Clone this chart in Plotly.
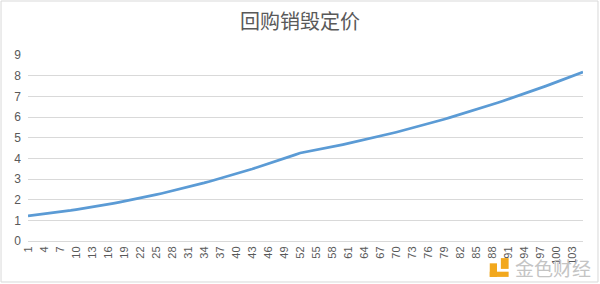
import plotly.graph_objects as go

title_text = "回购销毁定价"
periods = list(range(1, 106))
price = [
    1.220, 1.248, 1.277, 1.308, 1.340, 1.373, 1.407, 1.443, 1.479, 1.518,
    1.557, 1.598, 1.639, 1.683, 1.727, 1.773, 1.820, 1.868, 1.917, 1.968,
    2.020, 2.073, 2.128, 2.184, 2.241, 2.299, 2.359, 2.420, 2.482, 2.545,
    2.610, 2.676, 2.743, 2.811, 2.881, 2.952, 3.024, 3.098, 3.173, 3.249,
    3.326, 3.405, 3.484, 3.566, 3.648, 3.732, 3.816, 3.903, 3.990, 4.079,
    4.169, 4.260,
    4.307, 4.355, 4.404, 4.454, 4.505, 4.557, 4.611, 4.665, 4.720, 4.776,
    4.834, 4.892, 4.952, 5.012, 5.074, 5.136, 5.200, 5.264, 5.330, 5.397,
    5.464, 5.533, 5.603, 5.674, 5.746, 5.819, 5.893, 5.968, 6.044, 6.121,
    6.199, 6.278, 6.358, 6.439, 6.522, 6.605, 6.689, 6.775, 6.861, 6.948,
    7.037, 7.126, 7.217, 7.309, 7.401, 7.495, 7.590, 7.685, 7.782, 7.880,
    7.979, 8.079, 8.180,
]
y_ticks = list(range(0, 10))
x_labels = [str(p) for p in periods]
x_tick_labels = x_labels[::3]

fig = go.Figure()
fig.add_trace(go.Scatter(
    x=x_labels, y=price, mode="lines",
    line=dict(color="#5B9BD5", width=2.75),
    hoverinfo="skip",
))

fig.update_layout(
    width=600, height=284,
    margin=dict(l=28, r=17, t=55, b=43),
    paper_bgcolor="white", plot_bgcolor="white",
    showlegend=False,
    title=dict(text=title_text, x=0.5, xanchor="center", y=1 - 22 / 284, yanchor="middle",
               font=dict(family="Noto Sans CJK SC", size=20, color="#595959")),
    xaxis=dict(
        type="category", range=[0, len(periods) - 1],
        tickmode="array", tickvals=x_tick_labels, ticktext=x_tick_labels,
        tickangle=-90, showgrid=False, showline=True, linecolor="#D9D9D9", linewidth=1,
        ticks="", tickfont=dict(family="Liberation Sans", size=11, color="#595959"),
        zeroline=False,
    ),
    yaxis=dict(
        range=[0, 9], tickmode="array", tickvals=y_ticks,
        showgrid=True, gridcolor="#D9D9D9", gridwidth=1,
        zeroline=False, showline=False, ticks="",
        ticklabelstandoff=6,
        tickfont=dict(family="Liberation Sans", size=12, color="#595959"),
    ),
    shapes=[
        dict(type="rect", xref="paper", yref="paper",
             x0=-0.0486, x1=1.027, y0=-0.2204, y1=1.2903,
             line=dict(color="#D9D9D9", width=1), fillcolor="rgba(0,0,0,0)", layer="below"),
        dict(type="rect", xref="paper", yref="paper",
             x0=0.832, x1=0.845, y0=-0.193, y1=-0.12,
             line=dict(width=0), fillcolor="#F2A81D"),
        dict(type="rect", xref="paper", yref="paper",
             x0=0.832, x1=0.866, y0=-0.193, y1=-0.165,
             line=dict(width=0), fillcolor="#F2A81D"),
        dict(type="rect", xref="paper", yref="paper",
             x0=0.852, x1=0.866, y0=-0.15, y1=-0.092,
             line=dict(width=0), fillcolor="#F2A81D"),
    ],
    annotations=[
        dict(text="金色财经", xref="paper", yref="paper", x=0.946, y=-0.14,
             xanchor="center", yanchor="middle", showarrow=False,
             font=dict(family="Noto Sans CJK SC", size=19, color="#C4C4C4")),
    ],
)

fig.write_html("out.html")
